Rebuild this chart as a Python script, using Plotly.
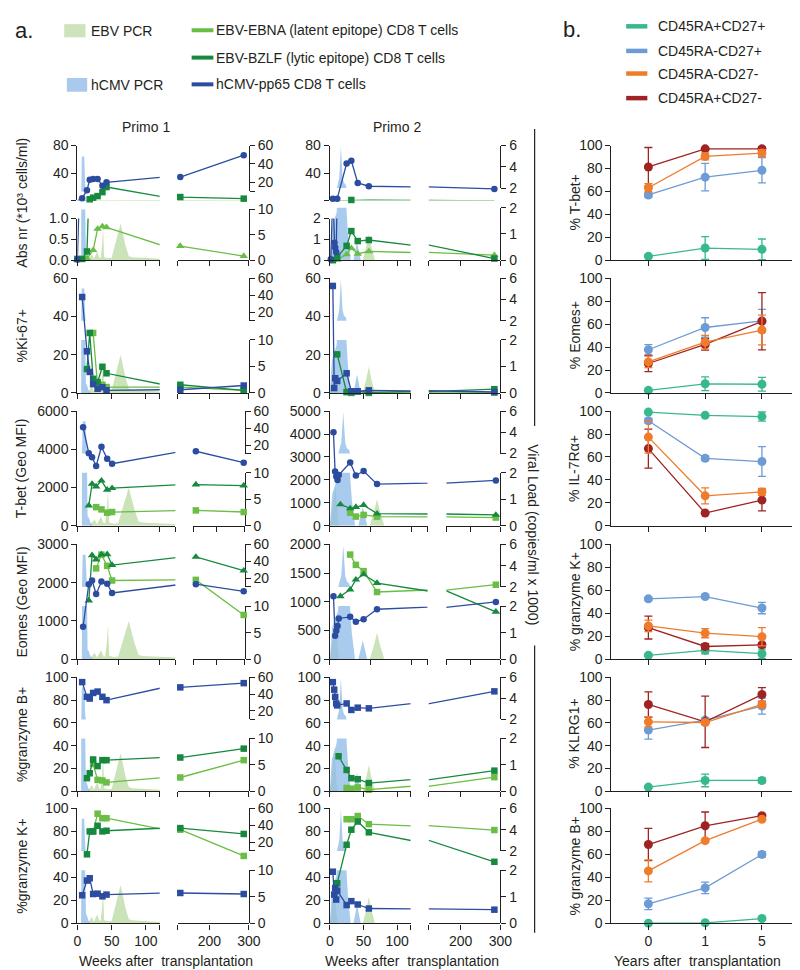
import plotly.graph_objects as go

W, H = 800, 970
FONT = "Liberation Sans, Arial, Helvetica, sans-serif"
INK = "#231f20"
TICK = 14

C_EBNA, C_BZLF, C_PP65 = "#6abd45", "#17893e", "#2b4c9f"
FILL_EBV = "rgba(170,210,140,0.62)"
FILL_CMV = "rgba(140,185,232,0.75)"
B_COLORS = ["#38b98b", "#6d9bd5", "#ef7c2c", "#9f2323"]
B_GROUPS = ["CD45RA+CD27+", "CD45RA-CD27+", "CD45RA-CD27-", "CD45RA+CD27-"]

# ======================= DATA : panel a =======================
# viral load (copies/ml x 1000)
P1_EBV_WK = [0, 15, 18, 21, 24, 26, 29, 32, 34, 36, 37.5, 39, 45, 50, 56, 63, 70, 75, 80, 120, 121]
P1_EBV_VL = [0, 0, 0.6, 1.2, 0.3, 0.8, 1.7, 0.5, 0.5, 3.0, 6.5, 0.6, 0.4, 0.5, 3.5, 7.2, 3.0, 0.8, 0.6, 0.3, 0]
P1_CMV_WK = [0, 5.5, 6.5, 10, 11.5, 12.5, 14, 16, 19, 120]
P1_CMV_VL = [0, 0, 48, 48, 15, 1.8, 1.5, 0.6, 0, 0]
P2_EBV_WK = [0, 2, 7, 10, 12, 49, 54, 58, 62, 67, 120]
P2_EBV_VL = [0, 0.3, 1.5, 0.3, 0, 0, 0.5, 1.0, 0.5, 0, 0]
P2_CMV_WK = [0, 3, 6, 10, 12, 14, 16.5, 19, 21, 24, 27, 31, 35, 40.5, 46, 120]
P2_CMV_VL = [0, 1.2, 1.5, 1.8, 2.5, 3.0, 5.9, 3.0, 2.5, 2.3, 1.0, 0, 0, 0.7, 0, 0]

# Primo 1
P1_ABS_PP65_WK = [0, 7, 14, 18, 23, 29.5, 36.5, 42.5, 126, 287]
P1_ABS_PP65 = [0.02, 3.8, 15.5, 30.6, 31.5, 31.5, 22.0, 26.8, 34.4, 66.0]
P1_ABS_BZLF_WK = [0, 7, 14, 18, 23, 29.5, 36.5, 42.5, 126, 287]
P1_ABS_BZLF = [0.03, 0.03, 0.21, 2.4, 4.7, 7.0, 12.7, 20.0, 5.6, 3.3]
P1_ABS_EBNA_WK = [0, 7, 14, 23, 29.5, 36.5, 42.5, 126, 287]
P1_ABS_EBNA = [0.0, 0.02, 0.04, 0.24, 0.75, 0.81, 0.79, 0.34, 0.10]

P1_KI_PP65_WK = [7, 14, 18, 23, 29.5, 36.5, 42.5, 126, 287]
P1_KI_PP65 = [50.2, 21.8, 11.0, 4.6, 2.2, 3.0, 1.4, 1.7, 3.9]
P1_KI_BZLF_WK = [14, 18, 23, 29.5, 36.5, 42.5, 126, 287]
P1_KI_BZLF = [12.5, 31.4, 7.4, 5.7, 13.7, 10.3, 4.3, 1.4]
P1_KI_EBNA_WK = [23, 29.5, 36.5, 42.5, 126, 287]
P1_KI_EBNA = [31.4, 3.8, 4.3, 3.1, 3.1, 1.4]

P1_TB_PP65_WK = [7, 14, 18, 23, 29.5, 36.5, 42.5, 129, 297]
P1_TB_PP65 = [5159, 3795, 3590, 3128, 4133, 3503, 3246, 3897, 3297]
P1_TB_BZLF_WK = [14, 18, 23, 29.5, 36.5, 42.5, 129, 297]
P1_TB_BZLF = [1056, 2185, 2051, 2359, 1877, 1964, 2154, 2103]
P1_TB_EBNA_WK = [23, 29.5, 36.5, 42.5, 129, 297]
P1_TB_EBNA = [974, 855, 683, 718, 803, 718]

P1_EO_PP65_WK = [7, 14, 18, 23, 29.5, 36.5, 42.5, 129, 297]
P1_EO_PP65 = [848, 1962, 2057, 1705, 2031, 1971, 1731, 1962, 1774]
P1_EO_BZLF_WK = [14, 18, 23, 29.5, 36.5, 42.5, 129, 297]
P1_EO_BZLF = [1534, 2717, 2605, 2734, 2742, 2460, 2674, 2314]
P1_EO_EBNA_WK = [23, 29.5, 36.5, 42.5, 129, 297]
P1_EO_EBNA = [2374, 2734, 2442, 2057, 2074, 1157]

P1_GB_PP65_WK = [7, 14, 18, 23, 29.5, 36.5, 42.5, 126, 287]
P1_GB_PP65 = [95.7, 82.8, 81.3, 86.2, 87.4, 82.8, 79.9, 91.1, 94.8]
P1_GB_BZLF_WK = [14, 18, 23, 29.5, 36.5, 42.5, 126, 287]
P1_GB_BZLF = [11.5, 15.8, 27.9, 22.1, 27.3, 27.3, 29.6, 37.4]
P1_GB_EBNA_WK = [23, 29.5, 36.5, 42.5, 126, 287]
P1_GB_EBNA = [24.0, 10.0, 9.5, 7.8, 12.1, 27.3]

P1_GK_PP65_WK = [7, 14, 18, 23, 29.5, 36.5, 42.5, 126, 287]
P1_GK_PP65 = [24.5, 37.3, 39.3, 25.6, 25.9, 23.6, 25.1, 26.5, 25.6]
P1_GK_BZLF_WK = [14, 18, 23, 29.5, 36.5, 42.5, 126, 287]
P1_GK_BZLF = [60.1, 80.0, 80.0, 84.9, 80.0, 80.6, 82.9, 77.8]
P1_GK_EBNA_WK = [23, 29.5, 36.5, 42.5, 126, 287]
P1_GK_EBNA = [80.0, 95.4, 91.5, 91.5, 81.5, 58.7]

# Primo 2
P2_ABS_PP65_WK = [1.5, 4.5, 7, 8, 9.5, 11, 25, 32, 41.5, 58, 285]
P2_ABS_PP65 = [0.05, 3.3, 0.84, 0.61, 0.4, 3.3, 54.0, 57.9, 25.9, 21.2, 17.4]
P2_ABS_BZLF_WK = [4.5, 11, 25, 32, 41.5, 58, 285]
P2_ABS_BZLF = [0.0, 0.16, 0.69, 1.4, 0.92, 0.97, 0.08]
P2_ABS_EBNA_WK = [4.5, 11, 25, 32, 41.5, 58, 285]
P2_ABS_EBNA = [0.0, 0.02, 0.28, 0.58, 0.31, 0.42, 0.24]

P2_KI_PP65_WK = [4.5, 6.5, 8, 11, 25, 32, 41.5, 58, 285]
P2_KI_PP65 = [56.0, 2.6, 7.7, 6.3, 10.3, 0.9, 0.9, 1.4, 0.5]
P2_KI_BZLF_WK = [11, 25, 32, 41.5, 58, 285]
P2_KI_BZLF = [20.2, 0.5, 0.3, 0.9, 0.3, 2.0]
P2_KI_EBNA_WK = [25, 32, 41.5, 58, 285]
P2_KI_EBNA = [0.5, 0.0, 0.9, 0.0, 0.1]

P2_TB_PP65_WK = [4.5, 6.5, 8, 9.5, 11, 25, 32, 41.5, 58, 285]
P2_TB_PP65 = [4077, 2360, 2146, 2000, 2215, 2760, 2189, 2386, 1815, 1974]
P2_TB_BZLF_WK = [13, 25, 32, 41.5, 58, 285]
P2_TB_BZLF = [927, 755, 815, 901, 528, 472]
P2_TB_EBNA_WK = [25, 32, 41.5, 58, 285]
P2_TB_EBNA = [571, 399, 472, 399, 356]

P2_EO_PP65_WK = [4.5, 6.5, 8, 9.5, 11, 25, 32, 41.5, 58, 285]
P2_EO_PP65 = [1096, 410, 497, 577, 710, 738, 652, 698, 871, 998]
P2_EO_BZLF_WK = [13, 25, 32, 41.5, 58, 285]
P2_EO_BZLF = [1096, 1212, 1385, 1477, 1327, 825]
P2_EO_EBNA_WK = [25, 32, 41.5, 58, 285]
P2_EO_EBNA = [1823, 1644, 1535, 1171, 1298]

P2_GB_PP65_WK = [4.5, 6.5, 8, 9.5, 11, 25, 32, 41.5, 58, 285]
P2_GB_PP65 = [95.7, 89.1, 82.8, 77.0, 75.3, 77.0, 71.3, 73.3, 72.7, 87.6]
P2_GB_BZLF_WK = [13, 25, 32, 41.5, 58, 285]
P2_GB_BZLF = [30.7, 18.7, 11.5, 10.6, 7.2, 18.1]
P2_GB_EBNA_WK = [25, 32, 41.5, 58, 285]
P2_GB_EBNA = [2.9, 2.3, 3.4, 1.4, 12.4]

P2_GK_PP65_WK = [4.5, 6.5, 8, 9.5, 11, 25, 32, 41.5, 58, 285]
P2_GK_PP65 = [45.0, 25.1, 30.8, 20.8, 28.5, 16.0, 19.4, 16.5, 13.0, 12.0]
P2_GK_BZLF_WK = [11, 25, 32, 41.5, 58, 285]
P2_GK_BZLF = [35.0, 68.4, 81.5, 88.6, 79.2, 53.6]
P2_GK_EBNA_WK = [25, 32, 41.5, 58, 285]
P2_GK_EBNA = [90.6, 90.6, 93.4, 86.3, 81.2]

# ======================= DATA : panel b =======================
B_YEARS = ["0", "1", "5"]
# rows: groups in order of B_GROUPS; mean values and symmetric error (SD)
B_TBET = [[3.4, 10.6, 9.5], [56.9, 72.4, 78.4], [63.2, 90.5, 93.4], [81.3, 97.1, 97.1]]
B_TBET_ERR = [[1.0, 10.0, 9.0], [2.0, 12.0, 11.0], [3.5, 3.0, 3.0], [17.0, 1.0, 2.0]]
B_EOMES = [[2.3, 8.0, 7.6], [37.7, 57.1, 62.9], [27.1, 44.3, 54.9], [25.7, 42.3, 62.5]]
B_EOMES_ERR = [[1.0, 6.0, 6.0], [4.5, 8.5, 10.0], [5.0, 6.0, 13.0], [7.0, 5.0, 25.0]]
B_IL7 = [[99.1, 96.3, 95.2], [91.5, 58.8, 56.0], [77.3, 26.1, 29.5], [67.3, 11.1, 22.4]]
B_IL7_ERR = [[1.0, 1.0, 4.0], [2.0, 2.0, 13.0], [14.0, 7.0, 3.0], [17.0, 1.0, 9.5]]
B_GZMK = [[3.4, 7.7, 4.8], [52.6, 54.6, 44.6], [29.0, 22.7, 19.6], [27.6, 11.1, 12.5]]
B_GZMK_ERR = [[1.0, 3.0, 4.0], [1.5, 1.5, 5.0], [5.0, 4.0, 8.0], [10.0, 2.5, 2.0]]
B_KLRG1 = [[3.7, 9.5, 9.5], [53.7, 62.4, 74.7], [60.9, 60.3, 76.1], [76.1, 60.9, 84.8]]
B_KLRG1_ERR = [[1.0, 5.5, 2.0], [8.0, 2.0, 7.0], [4.5, 2.0, 3.0], [11.0, 22.5, 6.0]]
B_GZMB = [[0.3, 0.6, 4.3], [17.1, 30.9, 60.0], [45.7, 72.0, 90.6], [68.6, 84.9, 93.7]]
B_GZMB_ERR = [[0.5, 0.5, 1.5], [5.0, 5.0, 2.5], [9.5, 1.0, 1.0], [14.0, 12.0, 1.0]]

# ======================= layout geometry (pixels) =======================
ROW_TOP = [131.7, 266.7, 401.7, 537.3, 672.3, 805.7]
ROW_BOT = [248.3, 383.3, 518.3, 654.0, 788.3, 922.7]
SEGS = {
    (1, "n"): ((66.7, 150.7), (169.3, 241.7)),
    (1, "w"): ((66.7, 166.7), (185.0, 237.3)),
    (2, "n"): ((324.3, 406.7), (425.3, 498.3)),
    (2, "w"): ((324.3, 424.0), (443.3, 498.3)),
}

layout = dict(width=W, height=H, margin=dict(l=0, r=0, t=0, b=0),
              paper_bgcolor="white", plot_bgcolor="rgba(0,0,0,0)",
              showlegend=False, hovermode=False,
              font=dict(family=FONT, size=TICK, color=INK))
fill_traces, line_traces = [], []
count = {"x": 0, "y": 0}
annotations, shapes = [], []


def akey(ref):
    return ref[0] + "axis" + ref[1:]


def new_axis(kind, spec):
    count[kind] += 1
    n = count[kind]
    suf = "" if n == 1 else str(n)
    layout[kind + "axis" + suf] = spec
    return kind + suf


def base_axis(**kw):
    d = dict(showgrid=False, zeroline=False, showline=True, linecolor=INK, linewidth=1.2,
             ticks="outside", ticklen=5, tickwidth=1.2, tickcolor=INK,
             tickfont=dict(family=FONT, size=TICK, color=INK), fixedrange=True)
    d.update(kw)
    return d


def fy(py):
    return 1 - py / H


def text(px, py, s, size=14, xanchor="center", angle=0, yanchor="middle"):
    annotations.append(dict(x=px / W, y=fy(py), xref="paper", yref="paper", text=s,
                            showarrow=False, xanchor=xanchor, yanchor=yanchor, textangle=angle,
                            font=dict(family=FONT, size=size, color=INK)))


def rect(x0, y0, x1, y1, color):
    shapes.append(dict(type="rect", xref="paper", yref="paper", x0=x0 / W, x1=x1 / W,
                       y0=fy(y1), y1=fy(y0), fillcolor=color, line=dict(width=0)))


def seg_line(x0, y0, x1, y1, color, width):
    shapes.append(dict(type="line", xref="paper", yref="paper", x0=x0 / W, x1=x1 / W,
                       y0=fy(y0), y1=fy(y1), line=dict(color=color, width=width)))


def ticks_cfg(vals, caps=None):
    """labelled ticks at vals; unlabelled end-cap ticks drawn as minor ticks"""
    d = dict(tickmode="array", tickvals=vals, ticktext=[str(v) for v in vals])
    if caps:
        d["minor"] = dict(tickmode="array", tickvals=caps, ticks="outside", ticklen=5,
                          tickwidth=1.2, tickcolor=INK, showgrid=False)
    return d


def add_series(wk, vals, color, symbol, msize, xrefs, yrefs):
    for xs, xrng in xrefs:
        for ys, yrng in yrefs:
            line_traces.append(go.Scatter(x=wk, y=vals, mode="lines", xaxis=xs, yaxis=ys,
                                          line=dict(color=color, width=1.3), hoverinfo="skip"))
            pts = [(w, v) for w, v in zip(wk, vals)
                   if xrng[0] <= w <= xrng[1] and yrng[0] <= v <= yrng[1]]
            if pts:
                line_traces.append(go.Scatter(
                    x=[p[0] for p in pts], y=[p[1] for p in pts], mode="markers",
                    xaxis=xs, yaxis=ys, cliponaxis=False, hoverinfo="skip",
                    marker=dict(symbol=symbol, size=msize, color=color, line=dict(width=0))))


def panel_a(col, row, series, left_cfg, right_cfg, viral):
    top, bot = ROW_TOP[row], ROW_BOT[row]
    h = bot - top
    (l0, l1), (r0, r1) = SEGS[(col, "w" if row in (2, 3) else "n")]
    last = row == 5
    xl = new_axis("x", base_axis(domain=[l0 / W, l1 / W], range=[0, 120], showticklabels=last,
                                 **ticks_cfg([0, 50, 100], [120])))
    xr = new_axis("x", base_axis(domain=[r0 / W, r1 / W], range=[120, 300], showticklabels=last,
                                 **ticks_cfg([200, 300], [120])))
    yr, yl = [], []
    for rng, f0, f1, tv, caps, fmt in right_cfg:
        ax = base_axis(domain=[fy(bot - f0 * h), fy(bot - f1 * h)], range=rng,
                       side="right", anchor=xr, **ticks_cfg(tv, caps))
        ref = new_axis("y", ax)
        yr.append((ref, rng))
    for rng, f0, f1, tv, caps, fmt in left_cfg:
        ax = base_axis(domain=[fy(bot - f0 * h), fy(bot - f1 * h)], range=rng,
                       side="left", anchor=xl, **ticks_cfg(tv, caps))
        if fmt:
            ax["ticktext"] = [fmt.format(v) for v in tv]
        ref = new_axis("y", ax)
        yl.append((ref, rng))
    layout[akey(xl)]["anchor"] = yl[0][0]
    layout[akey(xr)]["anchor"] = yr[0][0]
    for wk, vl, fc in viral:
        for ys, _ in yr:
            fill_traces.append(go.Scatter(x=wk, y=vl, mode="lines", fill="tozeroy", fillcolor=fc,
                                          line=dict(width=0, color="rgba(0,0,0,0)"),
                                          xaxis=xl, yaxis=ys, hoverinfo="skip"))
    xrefs = [(xl, (0, 120)), (xr, (120, 300))]
    for wk, vals, color, sym in series:
        add_series(wk, vals, color, sym, 7.5 if sym == "triangle-up" else 6.5, xrefs, yl)


def right_cfg(col, row):
    if col == 1:
        t = ([10, 60], 0.60 if row == 0 else 0.63, 1.0, [20, 40, 60], [10], None)
        b = ([0, 10], 0.0, 0.443 if row == 0 else 0.463, [0, 5, 10], None, None)
    else:
        t = ([2, 6], 0.629 if row == 0 else 0.63, 1.0, [2, 4, 6], None, None)
        b = ([0, 2], 0.0, 0.457 if row == 0 else 0.463, [0, 1, 2], None, None)
    return [b, t]


G100 = [0, 20, 40, 60, 80, 100]
LEFT = {
    (1, 0): [([0, 1], 0.0, 0.363, [0, 0.5, 1], None, "{:.1f}"),
             ([1, 80], 0.523, 1.0, [40, 80], [1], None)],
    (2, 0): [([0, 2], 0.0, 0.363, [0, 1, 2], None, None),
             ([1, 80], 0.523, 1.0, [40, 80], [1], None)],
    (1, 1): [([0, 60], 0, 1, [0, 20, 40, 60], None, None)],
    (2, 1): [([0, 60], 0, 1, [0, 20, 40, 60], None, None)],
    (1, 2): [([0, 6000], 0, 1, [0, 2000, 4000, 6000], None, None)],
    (2, 2): [([0, 5000], 0, 1, [0, 1000, 2000, 3000, 4000, 5000], None, None)],
    (1, 3): [([0, 3000], 0, 1, [0, 1000, 2000, 3000], None, None)],
    (2, 3): [([0, 2000], 0, 1, [0, 500, 1000, 1500, 2000], None, None)],
    (1, 4): [([0, 100], 0, 1, G100, None, None)],
    (2, 4): [([0, 100], 0, 1, G100, None, None)],
    (1, 5): [([0, 100], 0, 1, G100, None, None)],
    (2, 5): [([0, 100], 0, 1, G100, None, None)],
}

SER = {
    1: [
        [(P1_ABS_EBNA_WK, P1_ABS_EBNA, C_EBNA, "triangle-up"), (P1_ABS_BZLF_WK, P1_ABS_BZLF, C_BZLF, "square"),
         (P1_ABS_PP65_WK, P1_ABS_PP65, C_PP65, "circle")],
        [(P1_KI_EBNA_WK, P1_KI_EBNA, C_EBNA, "square"), (P1_KI_BZLF_WK, P1_KI_BZLF, C_BZLF, "square"),
         (P1_KI_PP65_WK, P1_KI_PP65, C_PP65, "square")],
        [(P1_TB_EBNA_WK, P1_TB_EBNA, C_EBNA, "square"), (P1_TB_BZLF_WK, P1_TB_BZLF, C_BZLF, "triangle-up"),
         (P1_TB_PP65_WK, P1_TB_PP65, C_PP65, "circle")],
        [(P1_EO_EBNA_WK, P1_EO_EBNA, C_EBNA, "square"), (P1_EO_BZLF_WK, P1_EO_BZLF, C_BZLF, "triangle-up"),
         (P1_EO_PP65_WK, P1_EO_PP65, C_PP65, "circle")],
        [(P1_GB_EBNA_WK, P1_GB_EBNA, C_EBNA, "square"), (P1_GB_BZLF_WK, P1_GB_BZLF, C_BZLF, "square"),
         (P1_GB_PP65_WK, P1_GB_PP65, C_PP65, "square")],
        [(P1_GK_EBNA_WK, P1_GK_EBNA, C_EBNA, "square"), (P1_GK_BZLF_WK, P1_GK_BZLF, C_BZLF, "square"),
         (P1_GK_PP65_WK, P1_GK_PP65, C_PP65, "square")],
    ],
    2: [
        [(P2_ABS_EBNA_WK, P2_ABS_EBNA, C_EBNA, "triangle-up"), (P2_ABS_BZLF_WK, P2_ABS_BZLF, C_BZLF, "square"),
         (P2_ABS_PP65_WK, P2_ABS_PP65, C_PP65, "circle")],
        [(P2_KI_EBNA_WK, P2_KI_EBNA, C_EBNA, "square"), (P2_KI_BZLF_WK, P2_KI_BZLF, C_BZLF, "square"),
         (P2_KI_PP65_WK, P2_KI_PP65, C_PP65, "square")],
        [(P2_TB_EBNA_WK, P2_TB_EBNA, C_EBNA, "square"), (P2_TB_BZLF_WK, P2_TB_BZLF, C_BZLF, "triangle-up"),
         (P2_TB_PP65_WK, P2_TB_PP65, C_PP65, "circle")],
        [(P2_EO_EBNA_WK, P2_EO_EBNA, C_EBNA, "square"), (P2_EO_BZLF_WK, P2_EO_BZLF, C_BZLF, "triangle-up"),
         (P2_EO_PP65_WK, P2_EO_PP65, C_PP65, "circle")],
        [(P2_GB_EBNA_WK, P2_GB_EBNA, C_EBNA, "square"), (P2_GB_BZLF_WK, P2_GB_BZLF, C_BZLF, "square"),
         (P2_GB_PP65_WK, P2_GB_PP65, C_PP65, "square")],
        [(P2_GK_EBNA_WK, P2_GK_EBNA, C_EBNA, "square"), (P2_GK_BZLF_WK, P2_GK_BZLF, C_BZLF, "square"),
         (P2_GK_PP65_WK, P2_GK_PP65, C_PP65, "square")],
    ],
}
VIRAL = {
    1: [(P1_EBV_WK, P1_EBV_VL, FILL_EBV), (P1_CMV_WK, P1_CMV_VL, FILL_CMV)],
    2: [(P2_EBV_WK, P2_EBV_VL, FILL_EBV), (P2_CMV_WK, P2_CMV_VL, FILL_CMV)],
}

for col in (1, 2):
    for row in range(6):
        panel_a(col, row, SER[col][row], LEFT[(col, row)], right_cfg(col, row), VIRAL[col])

# ---------------- panel b ----------------
B_ROWS = [(B_TBET, B_TBET_ERR), (B_EOMES, B_EOMES_ERR), (B_IL7, B_IL7_ERR),
          (B_GZMK, B_GZMK_ERR), (B_KLRG1, B_KLRG1_ERR), (B_GZMB, B_GZMB_ERR)]
B_DRAW_ORDER = [0, 1, 3, 2]
for row, (vals, errs) in enumerate(B_ROWS):
    top, bot = ROW_TOP[row], ROW_BOT[row]
    last = row == 5
    xb = new_axis("x", base_axis(domain=[611.7 / W, 1.0], range=[-0.65, 2.6], type="category",
                                 showticklabels=last, categoryorder="array", categoryarray=B_YEARS))
    yb = new_axis("y", base_axis(domain=[fy(bot), fy(top)], range=[0, 100], anchor=xb,
                                 **ticks_cfg(G100)))
    layout[akey(xb)]["anchor"] = yb
    for g in B_DRAW_ORDER:
        line_traces.append(go.Scatter(
            x=B_YEARS, y=vals[g], mode="lines+markers", xaxis=xb, yaxis=yb, cliponaxis=False,
            line=dict(color=B_COLORS[g], width=1.3),
            marker=dict(size=9, color=B_COLORS[g], line=dict(width=0)),
            error_y=dict(type="data", array=errs[g], visible=True, color=B_COLORS[g],
                         thickness=1.3, width=4), hoverinfo="skip"))

# ---------------- text, legends, decorations ----------------
text(12, 15, "a.", size=22)
text(571.7, 14, "b.", size=22)

rect(53.3, 8.3, 75.0, 21.7, "#cde3bc")
text(78.5, 15, "EBV PCR", xanchor="left")
rect(56.0, 63.0, 76.7, 77.0, "#a9caec")
text(78.5, 70, "hCMV PCR", xanchor="left")
for yy, col_, lab in [(14.5, C_EBNA, "EBV-EBNA (latent epitope) CD8 T cells"),
                      (42.3, C_BZLF, "EBV-BZLF (lytic epitope) CD8 T cells"),
                      (69.5, C_PP65, "hCMV-pp65 CD8 T cells")]:
    seg_line(183.3, yy, 205.5, yy, col_, 4)
    text(206.5, yy, lab, xanchor="left")

for i, (yy, lab) in enumerate(zip([10.5, 35.5, 58.5, 83.5], B_GROUPS)):
    seg_line(626.7, yy, 648.3, yy, B_COLORS[i], 4.5)
    text(657, yy, lab, xanchor="left")

text(136.7, 112.7, "Primo 1")
text(393.3, 112.7, "Primo 2")

A_TITLES = ["Abs nr (*10³ cells/ml)", "%Ki-67+", "T-bet (Geo MFI)", "Eomes (Geo MFI)",
            "%granzyme B+", "%granzyme K+"]
B_TITLES = ["% T-bet+", "% Eomes+", "% IL-7Rα+", "% granzyme K+", "% KLRG1+", "% granzyme B+"]
for r in range(6):
    cy = (ROW_TOP[r] + ROW_BOT[r]) / 2
    text(10, cy, A_TITLES[r], angle=-90)
    text(574, cy, B_TITLES[r], angle=-90)

text(156.7, 960.5, "Weeks after  transplantation")
text(408.0, 960.5, "Weeks after  transplantation")
text(699.0, 960.5, "Years after  transplantation")

text(531.7, 527, "Viral Load (copies/ml x 1000)", angle=90)
seg_line(533.3, 115, 533.3, 417, INK, 1.2)
seg_line(533.3, 640, 533.3, 932, INK, 1.2)

layout["annotations"] = annotations
layout["shapes"] = shapes

fig = go.Figure(data=fill_traces + line_traces, layout=layout)
fig.write_html("out.html")
